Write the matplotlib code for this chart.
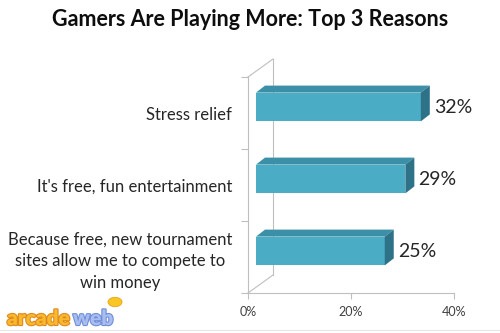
import matplotlib.pyplot as plt
from matplotlib.patches import Polygon, Circle
import matplotlib.patheffects as pe

reasons = ['Stress relief',
           "It's free, fun entertainment",
           'Because free, new tournament\nsites allow me to compete to\nwin money']
shares = [32, 29, 25]
x_ticks = [0, 20, 40]
x_tick_labels = ['0%', '20%', '40%']

plt.rcParams['font.family'] = ['Lato', 'DejaVu Sans']

FRONT = '#4bacc6'
TOP = '#3b90a8'
SIDE = '#2e7288'
GRID = '#bfbfbf'

fig = plt.figure(figsize=(5, 3.33), dpi=100)
ax = fig.add_axes([248 / 500, 1 - 293 / 333, 206 / 500, 216 / 333])
ax.set_xlim(0, 40)
ax.set_ylim(2.5, -0.5)

# pixel -> data units
px = 40 / 206
py = 3 / 216

def off(dx, dy):
    # screen offset in pixels (right, up) to data units
    return dx * px, -dy * py

ox, oy = off(8, 6)      # front face of bars sits a bit into the depth
bx, by = off(9, 7)      # bar depth
wx, wy = off(25, 18)    # back wall depth
h = 0.4

ypos = list(range(len(reasons)))
yb = [y + oy for y in ypos]
ax.barh(yb, shares, height=h, left=ox, color=FRONT, edgecolor='none', zorder=3)

for y, v in zip(yb, shares):
    top = y - h / 2
    bot = y + h / 2
    right = ox + v
    ax.add_patch(Polygon([(ox, top), (right, top), (right + bx, top + by), (ox + bx, top + by)],
                         closed=True, facecolor=TOP, edgecolor='none', zorder=3, clip_on=False))
    ax.add_patch(Polygon([(right, top), (right, bot), (right + bx, bot + by), (right + bx, top + by)],
                         closed=True, facecolor=SIDE, edgecolor='none', zorder=3, clip_on=False))
    ax.text(right + bx + 4 * px, y, f'{v}%', ha='left', va='center', fontsize=14, color='#262626')

# back wall and floor edges
ax.plot([wx, wx], [2.5 + wy, -0.5 + wy], color=GRID, lw=0.8, clip_on=False)
ax.plot([0, wx], [-0.5, -0.5 + wy], color=GRID, lw=0.8, clip_on=False)
ax.plot([0, wx], [2.5, 2.5 + wy], color=GRID, lw=0.8, clip_on=False)

for s in ['top', 'right']:
    ax.spines[s].set_visible(False)
for s in ['left', 'bottom']:
    ax.spines[s].set_color(GRID)
    ax.spines[s].set_linewidth(0.8)

ax.set_xticks(x_ticks)
ax.set_xticklabels(x_tick_labels)
ax.tick_params(axis='x', colors=GRID, length=4, width=0.8, labelsize=9, labelcolor='#404040', pad=5)

ax.set_yticks(ypos)
ax.set_yticklabels(reasons, multialignment='center', linespacing=1.45)
ax.set_yticks([-0.5, 0.5, 1.5, 2.5], minor=True)
ax.tick_params(axis='y', which='major', length=0, labelsize=12, labelcolor='#262626', pad=11.5)
ax.tick_params(axis='y', which='minor', length=5, width=0.8, colors=GRID)

fig.text(0.5, 1 - 20 / 333, 'Gamers Are Playing More: Top 3 Reasons', ha='center', va='center',
         fontsize=15.5, fontweight='bold', color='#0d0d0d')

# site logo in the corner
fig.text(7 / 500, 1 - 325 / 333, 'arcade', ha='left', va='baseline', fontsize=15, fontweight='heavy',
         color='#f8b92e', path_effects=[pe.withStroke(linewidth=1.6, foreground='#e08a1e')])
fig.text(73 / 500, 1 - 325 / 333, 'web', ha='left', va='baseline', fontsize=15, fontweight='heavy',
         color='#a9bdf0', path_effects=[pe.withStroke(linewidth=1.6, foreground='#6f8fd8')])
fig.patches.append(Circle((115 / 500, 1 - 302 / 333), 7 / 500, transform=fig.transFigure,
                          facecolor='#f9c623', edgecolor='#e8a317', lw=0.6))
fig.add_artist(plt.Line2D([0, 1], [1 - 330 / 333] * 2, color='#e6e6e6', lw=0.8))

fig.savefig('out.png', dpi=100)
